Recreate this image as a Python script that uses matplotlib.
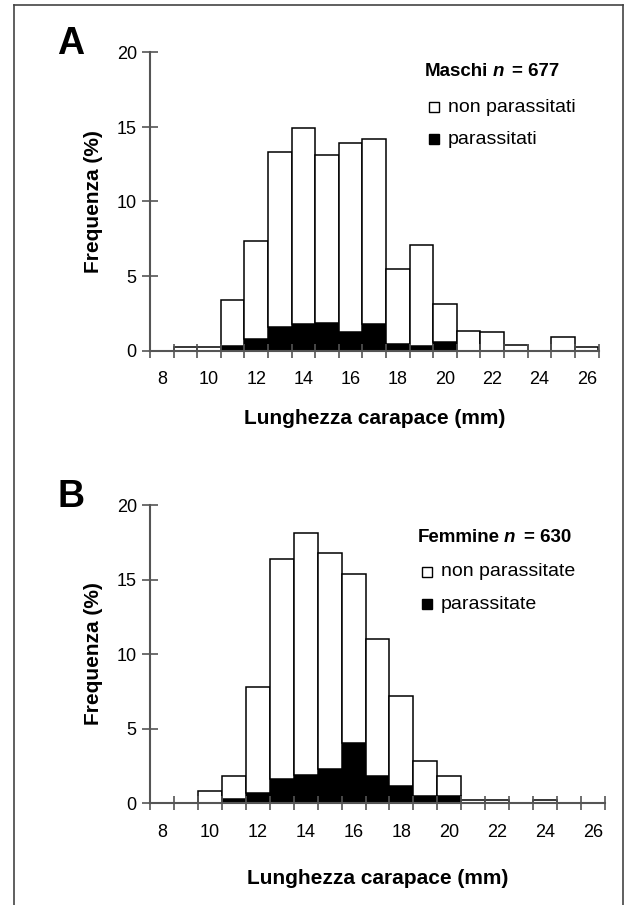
import numpy as np
import matplotlib.pyplot as plt
from matplotlib.lines import Line2D

plt.rcParams['font.family'] = ['Liberation Sans', 'DejaVu Sans']

# classi di lunghezza del carapace (mm)
classi = list(range(8, 27))
etichette_x = list(range(8, 27, 2))
tick_y = [0, 5, 10, 15, 20]

# A - maschi (%)
maschi_par = [0, 0, 0, 0.3, 0.75, 1.55, 1.8, 1.85, 1.25, 1.8, 0.45, 0.3, 0.55, 0, 0, 0, 0, 0, 0]
maschi_non = [0, 0.25, 0.25, 3.1, 6.6, 11.75, 13.1, 11.25, 12.65, 12.4, 5.05, 6.8, 2.55, 1.3, 1.25, 0.35, 0, 0.9, 0.25]

# B - femmine (%)
femmine_par = [0, 0, 0, 0.27, 0.65, 1.6, 1.9, 2.25, 4.0, 1.8, 1.15, 0.45, 0.45, 0, 0, 0, 0, 0, 0]
femmine_non = [0, 0, 0.8, 1.53, 7.15, 14.8, 16.2, 14.55, 11.4, 9.2, 6.0, 2.4, 1.35, 0.2, 0.2, 0, 0.2, 0, 0]

W, H = 635, 905
fig = plt.figure(figsize=(W / 100, H / 100), dpi=100)

# cornice esterna (senza lato inferiore)
fig.add_artist(Line2D([14 / W, 14 / W], [0, 1 - 5 / H], color='#444444', lw=1.2))
fig.add_artist(Line2D([14 / W, 623 / W], [1 - 5 / H, 1 - 5 / H], color='#444444', lw=1.2))
fig.add_artist(Line2D([623 / W, 623 / W], [0, 1 - 5 / H], color='#444444', lw=1.2))


def pannello(rect, par, non, lettera, titolo_sesso, n, voce_non, voce_par, y_lab, y_xlab, leg_pos):
    ax = fig.add_axes([rect[0] / W, 1 - rect[3] / H, (rect[2] - rect[0]) / W, (rect[3] - rect[1]) / H])
    ax.bar(classi, par, width=1, color='black', edgecolor='black', lw=1.1)
    ax.bar(classi, non, bottom=par, width=1, color='white', edgecolor='black', lw=1.1)
    ax.set_xlim(7.5, 26.5)
    ax.set_ylim(0, 20)
    for s in ['top', 'right']:
        ax.spines[s].set_visible(False)
    for s in ['left', 'bottom']:
        ax.spines[s].set_color('#555555')
        ax.spines[s].set_linewidth(1.5)
    # tacche ai confini delle classi, etichette al centro di una classe su due
    ax.set_xticks(np.arange(7.5, 27, 1))
    ax.set_xticklabels([])
    ax.set_xticks(etichette_x, minor=True)
    ax.set_xticklabels([str(v) for v in etichette_x], minor=True, fontsize=13)
    ax.tick_params(axis='x', which='major', direction='inout', length=10, width=1.2, color='#555555')
    ax.tick_params(axis='x', which='minor', length=0, pad=15)
    ax.set_yticks(tick_y)
    ax.set_yticklabels([str(v) for v in tick_y], fontsize=13)
    ax.tick_params(axis='y', direction='inout', length=11, width=1.2, color='#555555', pad=4)
    ax.set_facecolor('none')

    fig.text(57 / W, 1 - y_lab / H, lettera, fontsize=27, weight='bold', ha='left', va='center')
    fig.text(93 / W, 1 - (rect[1] + rect[3]) / 2 / H, 'Frequenza (%)', fontsize=15, weight='bold',
             rotation=90, ha='center', va='center')
    fig.text((rect[0] + rect[2]) / 2 / W, 1 - y_xlab / H, 'Lunghezza carapace (mm)', fontsize=15,
             weight='bold', ha='center', va='center')

    lx, ly = leg_pos
    t1 = fig.text(lx / W, 1 - ly / H, titolo_sesso, fontsize=13.5, weight='bold', ha='left', va='center')
    t2 = ax.annotate('n', xy=(1, 0), xycoords=t1, xytext=(3, 0), textcoords='offset points',
                     fontsize=13.5, weight='bold', style='italic', ha='left', va='bottom')
    ax.annotate('= ' + str(n), xy=(1, 0), xycoords=t2, xytext=(6, 0), textcoords='offset points',
                fontsize=13.5, weight='bold', ha='left', va='bottom')
    for dy, fc, testo in [(35, 'white', voce_non), (67, 'black', voce_par)]:
        fig.add_artist(Line2D([(lx + 9) / W], [1 - (ly + dy) / H], marker='s', ms=6.5,
                              mfc=fc, mec='black', mew=1.0, ls='none'))
        fig.text((lx + 23) / W, 1 - (ly + dy) / H, testo, fontsize=14, ha='left', va='center')
    return ax


pannello((150, 52.5, 598.5, 350.5), maschi_par, maschi_non, 'A', 'Maschi', 677,
         'non parassitati', 'parassitati', 44, 418, (425, 72))
pannello((150, 505, 605, 803), femmine_par, femmine_non, 'B', 'Femmine', 630,
         'non parassitate', 'parassitate', 497, 878, (418, 537))

fig.savefig('out.png', dpi=100, facecolor='white')
